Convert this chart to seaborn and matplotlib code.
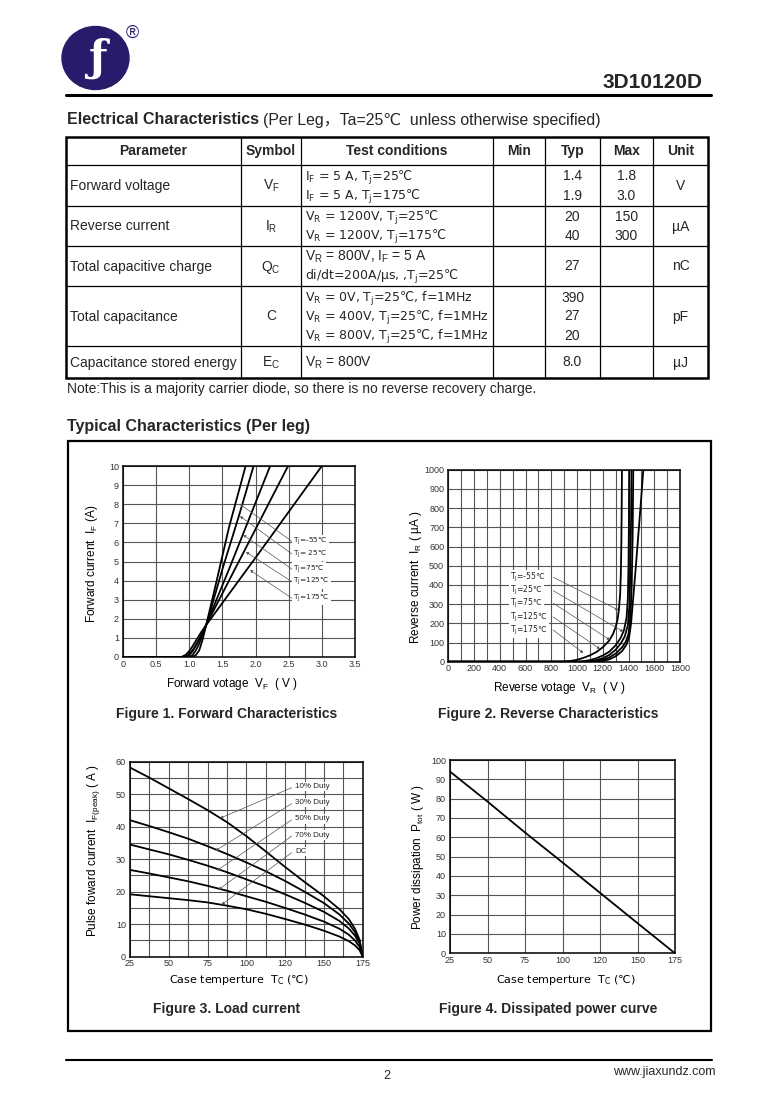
import matplotlib
matplotlib.use('Agg')
import matplotlib.pyplot as plt
import matplotlib.patches as mpatches
from matplotlib.ticker import MultipleLocator, FixedLocator
import seaborn as sns

sns.set_theme(style='white')
plt.rcParams['font.family'] = ['Liberation Sans', 'DejaVu Sans', 'Noto Sans CJK SC']
plt.rcParams['mathtext.fontset'] = 'custom'
plt.rcParams['mathtext.rm'] = 'Liberation Sans'

# mathtext only looks in one family, so strings holding ℃ and a subscript use DejaVu
DV = 'DejaVu Sans'

# ---------------- electrical characteristics table ----------------
tbl_header = ['Parameter', 'Symbol', 'Test conditions', 'Min', 'Typ', 'Max', 'Unit']
tbl_param = ['Forward voltage', 'Reverse current', 'Total capacitive charge',
             'Total capacitance', 'Capacitance stored energy']
tbl_symbol = [r'V$_\mathregular{F}$', r'I$_\mathregular{R}$', r'Q$_\mathregular{C}$', 'C',
              r'E$_\mathregular{C}$']
tbl_cond = [
    [r'I$_\mathregular{F}$ = 5 A, T$_\mathregular{j}$=25℃', r'I$_\mathregular{F}$ = 5 A, T$_\mathregular{j}$=175℃'],
    [r'V$_\mathregular{R}$ = 1200V, T$_\mathregular{j}$=25℃', r'V$_\mathregular{R}$ = 1200V, T$_\mathregular{j}$=175℃'],
    [r'V$_\mathregular{R}$ = 800V, I$_\mathregular{F}$ = 5 A', r'di/dt=200A/µs, ,T$_\mathregular{j}$=25℃'],
    [r'V$_\mathregular{R}$ = 0V, T$_\mathregular{j}$=25℃, f=1MHz',
     r'V$_\mathregular{R}$ = 400V, T$_\mathregular{j}$=25℃, f=1MHz',
     r'V$_\mathregular{R}$ = 800V, T$_\mathregular{j}$=25℃, f=1MHz'],
    [r'V$_\mathregular{R}$ = 800V'],
]
tbl_typ = [['1.4', '1.9'], ['20', '40'], ['27'], ['390', '27', '20'], ['8.0']]
tbl_max = [['1.8', '3.0'], ['150', '300'], [], [], []]
tbl_unit = ['V', 'µA', 'nC', 'pF', 'µJ']

# ---------------- Figure 1: forward characteristics ----------------
f1_labels = ['=-55℃', '= 25℃', '=75℃', '=125℃', '=175℃']
f1_v = [
    [0, 1.05, 1.1, 1.15, 1.2, 1.25, 1.4, 1.6, 1.85],
    [0, 1.0, 1.05, 1.1, 1.15, 1.25, 1.5, 1.75, 1.97],
    [0, 0.95, 1.0, 1.05, 1.1, 1.18, 1.25, 1.6, 2.22],
    [0, 0.92, 0.98, 1.05, 1.12, 1.2, 1.25, 1.8, 2.49],
    [0, 0.88, 0.95, 1.02, 1.1, 1.18, 1.25, 2.0, 3.0],
]
f1_i = [
    [0, 0, 0.1, 0.35, 0.9, 1.6, 3.8, 6.8, 10],
    [0, 0, 0.1, 0.35, 0.7, 1.6, 4.6, 7.4, 10],
    [0, 0, 0.1, 0.3, 0.6, 1.1, 1.65, 4.6, 10],
    [0, 0, 0.1, 0.35, 0.75, 1.25, 1.65, 5.35, 10],
    [0, 0, 0.12, 0.4, 0.85, 1.3, 1.65, 5.2, 10],
]
f1_ticks = [0, 0.5, 1.0, 1.5, 2.0, 2.5, 3.0, 3.5]
f1_ticklabels = ['0', '0.5', '1.0', '1.5', '2.0', '2.5', '3.0', '3.5']
f1_lbl_y = [6.05, 5.39, 4.6, 3.94, 3.07]
f1_tip_x = [1.765, 1.765, 1.81, 1.855, 1.916]
f1_tip_y = [8.0, 7.37, 6.4, 5.5, 4.55]

# ---------------- Figure 2: reverse characteristics ----------------
f2_labels = ['=-55℃', '=25℃', '=75℃', '=125℃', '=175℃']
f2_v = [
    [0, 880, 950, 1000, 1050, 1100, 1150, 1200, 1250, 1280, 1300, 1315, 1325, 1335, 1340, 1344, 1347, 1349],
    [0, 1020, 1100, 1150, 1200, 1250, 1300, 1340, 1365, 1385, 1395, 1400, 1403, 1405],
    [0, 1080, 1150, 1200, 1250, 1300, 1340, 1370, 1395, 1408, 1415, 1420, 1423],
    [0, 1130, 1200, 1250, 1300, 1350, 1380, 1400, 1415, 1425, 1432, 1437],
    [0, 1180, 1250, 1300, 1350, 1385, 1405, 1420, 1435, 1455, 1475, 1495, 1515],
]
f2_i = [
    [0, 0, 4, 10, 20, 33, 50, 75, 110, 145, 180, 220, 270, 350, 450, 600, 800, 1000],
    [0, 0, 8, 18, 32, 52, 85, 125, 165, 230, 330, 500, 700, 1000],
    [0, 0, 8, 18, 35, 62, 95, 130, 190, 300, 500, 750, 1000],
    [0, 0, 10, 22, 42, 75, 105, 145, 230, 400, 650, 1000],
    [0, 0, 12, 28, 55, 90, 130, 200, 320, 480, 650, 820, 1000],
]
f2_lbl_y = [440, 370, 305, 233, 165]
f2_tip_x = [1321, 1360, 1256, 1179, 1049]
f2_tip_y = [269, 156, 113, 66, 45]

# ---------------- Figure 3: load current ----------------
f3_labels = ['10% Duty', '30% Duty', '50% Duty', '70% Duty', 'DC']
f3_t = [25, 37.5, 50, 62.5, 75, 87.5, 100, 112.5, 125, 137.5, 150, 160, 166, 170, 173, 175]
f3_i = [
    [58.2, 55.1, 51.8, 48.5, 45.1, 41.4, 37.1, 32.4, 27.6, 23.0, 18.6, 14.6, 11.6, 8.6, 5.2, 0],
    [42.0, 40.2, 38.3, 36.3, 34.0, 31.6, 29.0, 26.3, 23.3, 20.0, 16.5, 13.0, 10.2, 7.6, 4.6, 0],
    [34.5, 33.0, 31.5, 29.8, 28.0, 26.0, 23.8, 21.6, 19.2, 16.6, 13.8, 11.0, 8.7, 6.5, 4.0, 0],
    [26.7, 25.6, 24.4, 23.2, 21.8, 20.3, 18.6, 16.9, 15.0, 13.0, 10.8, 8.6, 6.8, 5.0, 3.0, 0],
    [19.2, 18.6, 18.0, 17.4, 16.7, 15.7, 14.6, 13.2, 11.6, 9.9, 8.0, 6.2, 4.8, 3.5, 2.0, 0],
]
f3_lbl_y = [52.3, 47.4, 42.4, 37.4, 32.3]
f3_tip_x = [83, 80, 81, 82, 84]
f3_tip_y = [42.6, 32.6, 26.5, 20.6, 16.0]

# ---------------- Figure 4: dissipated power ----------------
f4_t = [25, 50, 75, 100, 125, 150, 175]
f4_p = [94, 78.5, 62.5, 47, 31.3, 15.6, 0]

temp_ticks = [25, 50, 75, 100, 125, 150, 175]
temp_ticklabels = ['25', '50', '75', '100', '120', '150', '175']

W, H = 779, 1105
fig = plt.figure(figsize=(W / 100, H / 100), dpi=100)

# page layer in pixel coordinates
page = fig.add_axes([0, 0, 1, 1], zorder=-1)
page.set_xlim(0, W)
page.set_ylim(H, 0)
page.axis('off')

# logo and header
page.add_patch(mpatches.Ellipse((95.5, 58), 67, 63, color='#2a1a6b'))
page.text(97, 59, 'ƒ', color='white', fontsize=31, family='DejaVu Serif', fontweight='bold',
          ha='center', va='center')
page.text(132, 33, '®', color='#2a1a6b', fontsize=13, ha='center', va='center')
page.text(703, 83, '3D10120D', fontsize=15, fontweight='bold', ha='right', va='center')
page.plot([66, 711], [95, 95], color='black', lw=2.2)

page.text(67, 120, 'Electrical Characteristics', fontsize=11.5, fontweight='bold', va='center')
page.text(263, 120, '(Per Leg，Ta=25℃  unless otherwise specified)', fontsize=11.4, va='center')

# table grid
col_x = [66, 241, 301, 493, 545, 600, 653, 708]
row_y = [137, 165, 206, 246, 286, 346, 378]
for x in col_x[1:-1]:
    page.plot([x, x], [row_y[0], row_y[-1]], color='black', lw=0.9)
for y in row_y[1:-1]:
    page.plot([col_x[0], col_x[-1]], [y, y], color='black', lw=0.9)
page.add_patch(mpatches.Rectangle((col_x[0], row_y[0]), col_x[-1] - col_x[0],
                                  row_y[-1] - row_y[0], fill=False, lw=1.8, ec='black'))

for k, h in enumerate(tbl_header):
    page.text((col_x[k] + col_x[k + 1]) / 2, (row_y[0] + row_y[1]) / 2, h,
              fontsize=10, fontweight='bold', ha='center', va='center')


def cell_lines(lines, cx, r, ha):
    c = (row_y[r + 1] + row_y[r + 2]) / 2
    n = len(lines)
    for k, s in enumerate(lines):
        y = c + (k - (n - 1) / 2) * 19
        if '℃' in s or 'µs' in s:
            page.text(cx, y + 4.5, s, fontsize=9, family=DV, ha=ha, va='baseline')
        else:
            page.text(cx, y + 4.5, s, fontsize=10, ha=ha, va='baseline')


for r in range(len(tbl_param)):
    cell_lines([tbl_param[r]], 70, r, 'left')
    cell_lines([tbl_symbol[r]], (col_x[1] + col_x[2]) / 2, r, 'center')
    cell_lines(tbl_cond[r], 305, r, 'left')
    cell_lines(tbl_typ[r], (col_x[4] + col_x[5]) / 2, r, 'center')
    cell_lines(tbl_max[r], (col_x[5] + col_x[6]) / 2, r, 'center')
    cell_lines([tbl_unit[r]], (col_x[6] + col_x[7]) / 2, r, 'center')

page.text(67, 389, 'Note:This is a majority carrier diode, so there is no reverse recovery charge.',
          fontsize=10, va='center')

page.text(67, 426, 'Typical Characteristics (Per leg)', fontsize=11.5, fontweight='bold', va='center')
page.add_patch(mpatches.Rectangle((68, 441), 643, 590, fill=False, lw=1.6, ec='black'))

for (x, y, s) in [(227, 714, 'Figure 1. Forward Characteristics'),
                  (548, 714, 'Figure 2. Reverse Characteristics'),
                  (227, 1009, 'Figure 3. Load current'),
                  (548, 1009, 'Figure 4. Dissipated power curve')]:
    page.text(x, y, s, fontsize=10, fontweight='bold', ha='center', va='center')

page.plot([66, 712], [1060, 1060], color='black', lw=1.5)
page.text(387, 1076, '2', fontsize=9, ha='center', va='center')
page.text(716, 1072, 'www.jiaxundz.com', fontsize=9, ha='right', va='center')


def px_rect(x0, x1, y0, y1):
    return [x0 / W, 1 - y1 / H, (x1 - x0) / W, (y1 - y0) / H]


def style(ax):
    ax.grid(True, which='both', color='#555555', lw=0.8)
    ax.set_axisbelow(True)
    for sp in ax.spines.values():
        sp.set_visible(True)
        sp.set_color('black')
        sp.set_linewidth(1.1)
    ax.tick_params(which='both', length=0, labelsize=6.5, labelcolor='#333333', pad=2)


def labels(ax, xl, yl, xc, yc, xfam=None):
    ax.set_xlabel(xl, fontsize=8.5, color='black')
    ax.set_ylabel(yl, fontsize=8.5, color='black')
    if xfam:
        ax.xaxis.label.set_family(xfam)
        ax.xaxis.label.set_size(8)
    ax.xaxis.set_label_coords(*xc)
    ax.yaxis.set_label_coords(*yc)
    ax.xaxis.label.set_va('center')
    ax.yaxis.label.set_va('center')


lbl_box = dict(boxstyle='square,pad=0.15', fc='white', ec='none')
arrow = dict(arrowstyle='-|>', color='#555555', lw=0.5, mutation_scale=4, shrinkA=0, shrinkB=0)

# Figure 1
ax1 = fig.add_axes(px_rect(123, 355, 466, 657))
for v, i in zip(f1_v, f1_i):
    sns.lineplot(x=v, y=i, ax=ax1, color='black', lw=1.3, estimator=None)
ax1.set_xlim(0, 3.5)
ax1.set_ylim(0, 10)
ax1.xaxis.set_major_locator(FixedLocator(f1_ticks))
ax1.set_xticklabels(f1_ticklabels)
ax1.yaxis.set_major_locator(FixedLocator(range(11)))
style(ax1)
ax1.tick_params(axis='y', pad=3)
for s, ly, tx, ty in zip(f1_labels, f1_lbl_y, f1_tip_x, f1_tip_y):
    ax1.annotate('', xy=(tx, ty), xytext=(2.55, ly), arrowprops=arrow)
    ax1.text(2.57, ly, r'T$_\mathregular{J}$' + s, fontsize=5.3, family=DV, va='center', bbox=lbl_box)
labels(ax1, r'Forward votage  V$_\mathregular{F}$  ( V )', r'Forward current  I$_\mathregular{F}$ (A)',
       (0.47, -0.141), (-0.134, 0.487))

# Figure 2
ax2 = fig.add_axes(px_rect(448.3, 680, 469.7, 661.7))
for v, i in zip(f2_v, f2_i):
    sns.lineplot(x=v, y=i, ax=ax2, color='black', lw=1.3, estimator=None)
ax2.set_xlim(0, 1800)
ax2.set_ylim(0, 1000)
ax2.xaxis.set_major_locator(FixedLocator(range(0, 1801, 200)))
ax2.xaxis.set_minor_locator(FixedLocator(range(100, 1800, 200)))
ax2.yaxis.set_major_locator(FixedLocator(range(0, 1001, 100)))
style(ax2)
ax2.tick_params(axis='y', pad=3)
for s, ly, tx, ty in zip(f2_labels, f2_lbl_y, f2_tip_x, f2_tip_y):
    ax2.annotate('', xy=(tx, ty), xytext=(815, ly), arrowprops=arrow)
    ax2.text(478, ly, r'T$_\mathregular{J}$' + s, fontsize=5.5, family=DV, va='center', bbox=lbl_box)
labels(ax2, r'Reverse votage  V$_\mathregular{R}$  ( V )', r'Reverse current  I$_\mathregular{R}$ ( µA )',
       (0.478, -0.137), (-0.139, 0.44))

# Figure 3
ax3 = fig.add_axes(px_rect(130, 362.7, 761.7, 956.7))
for i in f3_i:
    sns.lineplot(x=f3_t, y=i, ax=ax3, color='black', lw=1.3, estimator=None)
ax3.set_xlim(25, 175)
ax3.set_ylim(0, 60)
ax3.xaxis.set_major_locator(FixedLocator(temp_ticks))
ax3.xaxis.set_minor_locator(MultipleLocator(12.5))
ax3.set_xticklabels(temp_ticklabels)
ax3.yaxis.set_major_locator(FixedLocator(range(0, 61, 10)))
ax3.yaxis.set_minor_locator(MultipleLocator(5))
style(ax3)
ax3.tick_params(axis='y', pad=3)
for s, ly, tx, ty in zip(f3_labels, f3_lbl_y, f3_tip_x, f3_tip_y):
    ax3.annotate('', xy=(tx, ty), xytext=(129.2, ly - 0.3), arrowprops=arrow)
    ax3.text(131.5, ly, s, fontsize=5.8, va='center', bbox=lbl_box)
labels(ax3, r'Case temperture  T$_\mathregular{C}$ (℃)',
       r'Pulse foward current  I$_\mathregular{F(peak)}$ ( A )',
       (0.468, -0.12), (-0.159, 0.547), xfam=DV)

# Figure 4
ax4 = fig.add_axes(px_rect(450, 675, 760, 953.3))
sns.lineplot(x=f4_t, y=f4_p, ax=ax4, color='black', lw=1.3, estimator=None)
ax4.set_xlim(25, 175)
ax4.set_ylim(0, 100)
ax4.xaxis.set_major_locator(FixedLocator(temp_ticks))
ax4.set_xticklabels(temp_ticklabels)
ax4.yaxis.set_major_locator(FixedLocator(range(0, 101, 10)))
style(ax4)
ax4.tick_params(axis='y', pad=3)
labels(ax4, r'Case temperture  T$_\mathregular{C}$ (℃)', r'Power dissipation  P$_\mathregular{tot}$ ( W )',
       (0.516, -0.138), (-0.142, 0.498), xfam=DV)

fig.savefig('out.png', dpi=100)
